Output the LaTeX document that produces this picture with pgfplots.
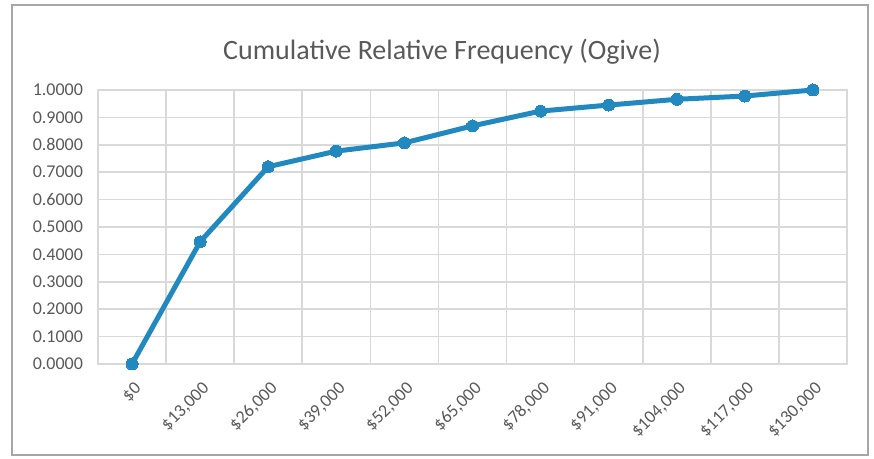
\documentclass[border=0pt]{standalone}
\usepackage{fontspec}
\setmainfont{Carlito}
\usepackage{pgfplots}
\pgfplotsset{compat=1.18}
\definecolor{ogive}{RGB}{33,137,192}
\definecolor{txt}{RGB}{89,89,89}
\definecolor{gridc}{RGB}{217,217,217}
\begin{document}
\begin{tikzpicture}
\begin{axis}[
    scale only axis,
    width=374.5pt, height=137pt,
    xmin=-0.5, xmax=10.5,
    ymin=0, ymax=1,
    xtick={0,...,10},
    xticklabels={{\$0},{\$13,000},{\$26,000},{\$39,000},{\$52,000},{\$65,000},{\$78,000},{\$91,000},{\$104,000},{\$117,000},{\$130,000}},
    minor xtick={0.5,1.5,...,9.5},
    ytick={0,0.1,...,1.0},
    xminorgrids=true, ymajorgrids=true,
    grid style={gridc, line width=0.8pt},
    minor grid style={gridc, line width=0.8pt},
    axis line style={gridc, line width=0.8pt},
    major tick length=0pt, minor tick length=0pt,
    tick label style={font=\fontsize{9}{10}\selectfont, text=txt},
    xticklabel style={rotate=45, anchor=east, xshift=-2pt, yshift=-10pt},
    yticklabel style={xshift=-4pt},
    /pgf/number format/assume math mode=true,
    yticklabel={\pgfmathprintnumber[fixed, fixed zerofill, precision=4]{\tick}},
    clip=false,
]
\addplot[ogive, line width=2.5pt, mark=*, mark size=3pt, mark options={fill=ogive, draw=ogive, line width=0pt}] coordinates {
    (0,0) (1,0.446) (2,0.720) (3,0.777) (4,0.807) (5,0.869)
    (6,0.923) (7,0.945) (8,0.966) (9,0.978) (10,1.0)
};
\end{axis}
\path (-49pt,-47.5pt) rectangle (388pt,182pt);
\draw[gray!70, line width=1.2pt] (-43pt,-45.5pt) rectangle (385pt,179.5pt);
\node[text=txt, font=\fontsize{14}{16}\selectfont] at (172pt,156pt) {Cumulative Relative Frequency (Ogive)};
\end{tikzpicture}
\end{document}
